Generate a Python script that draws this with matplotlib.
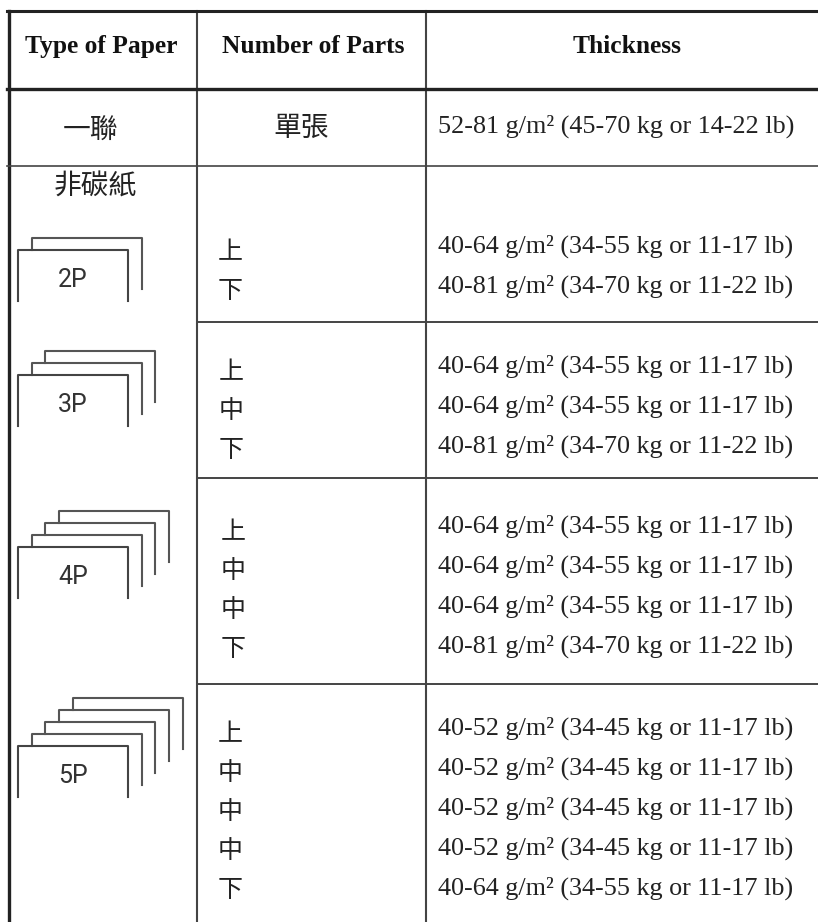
import matplotlib
matplotlib.use("Agg")
import matplotlib.pyplot as plt

W, H = 818, 922
CJK = ["Noto Sans CJK TC", "DejaVu Sans"]
SERIF = ["Liberation Serif", "DejaVu Serif"]
INK = "#222222"

headers = ["Type of Paper", "Number of Parts", "Thickness"]
header_x = [101, 313, 627]
single_type = "一聯"
single_parts = "單張"
single_thick = "52-81 g/m² (45-70 kg or 14-22 lb)"
carbonless = "非碳紙"

T1 = "40-64 g/m² (34-55 kg or 11-17 lb)"
T2 = "40-81 g/m² (34-70 kg or 11-22 lb)"
T3 = "40-52 g/m² (34-45 kg or 11-17 lb)"

stack_labels = ["2P", "3P", "4P", "5P"]
stack_sheets = [2, 3, 4, 5]
stack_tops = [250, 375, 547, 746]
parts = [["上", "下"], ["上", "中", "下"], ["上", "中", "中", "下"], ["上", "中", "中", "中", "下"]]
parts_x = [230, 231, 233, 230]
thick = [[T1, T2], [T1, T1, T2], [T1, T1, T1, T2], [T3, T3, T3, T3, T1]]
baseline_starts = [253, 373, 533, 735]

col_x = [9, 197, 426]
row_y = [11, 89, 166, 322, 478, 684]


def draw_stack(ax, n, top, label):
    dx, dy = 13.7, 12
    for i in range(n - 1, -1, -1):
        x0, y0 = 18 + i * dx, top - i * dy
        if i == 0:
            ax.plot([x0, x0, x0 + 110, x0 + 110], [y0 + 51, y0, y0, y0 + 51], color="#444444", lw=1.5)
        else:
            ax.plot([x0, x0, x0 + 110, x0 + 110], [y0 + dy, y0, y0, y0 + 51], color="#555555", lw=1.5)
    ax.text(73, top + 30, label, ha="center", va="center", fontsize=18, color="#333333", family="Roboto")


fig = plt.figure(figsize=(W / 100, H / 100), dpi=100)
ax = fig.add_axes([0, 0, 1, 1])
ax.set_xlim(0, W)
ax.set_ylim(H, 0)
ax.axis("off")

# grid
ax.plot([col_x[0], col_x[0]], [row_y[0], H], color=INK, lw=2.4)
ax.plot([col_x[1], col_x[1]], [row_y[0], H], color="#444444", lw=1.5)
ax.plot([col_x[2], col_x[2]], [row_y[0], H], color="#444444", lw=1.5)
ax.plot([7, W], [row_y[0], row_y[0]], color=INK, lw=2.2)
ax.plot([7, W], [row_y[1], row_y[1]], color=INK, lw=2.4)
ax.plot([7, W], [row_y[2], row_y[2]], color="#444444", lw=1.2)
for y in row_y[3:]:
    ax.plot([col_x[1], W], [y, y], color="#444444", lw=1.4)

# header
for cx, h in zip(header_x, headers):
    ax.text(cx, 53, h, ha="center", va="baseline", fontsize=18.4, fontweight="bold", family=SERIF, color="#111111")

# single sheet row
ax.text(90, 131, single_type, ha="center", va="center", fontsize=20, family=CJK, color=INK)
ax.text(301, 128, single_parts, ha="center", va="center", fontsize=20, family=CJK, color=INK)
ax.text(438, 133, single_thick, ha="left", va="baseline", fontsize=18.8, family=SERIF, color=INK)

ax.text(95, 187, carbonless, ha="center", va="center", fontsize=20, family=CJK, color=INK)

# multipart rows
for n, top, label in zip(stack_sheets, stack_tops, stack_labels):
    draw_stack(ax, n, top, label)

for start, px, p, t in zip(baseline_starts, parts_x, parts, thick):
    for i in range(len(p)):
        y = start + i * 40
        ax.text(px, start - 1 + i * 39, p[i], ha="center", va="center", fontsize=18, family=CJK, color=INK)
        ax.text(438, y, t[i], ha="left", va="baseline", fontsize=18.8, family=SERIF, color=INK)

fig.savefig("out.png", dpi=100)
